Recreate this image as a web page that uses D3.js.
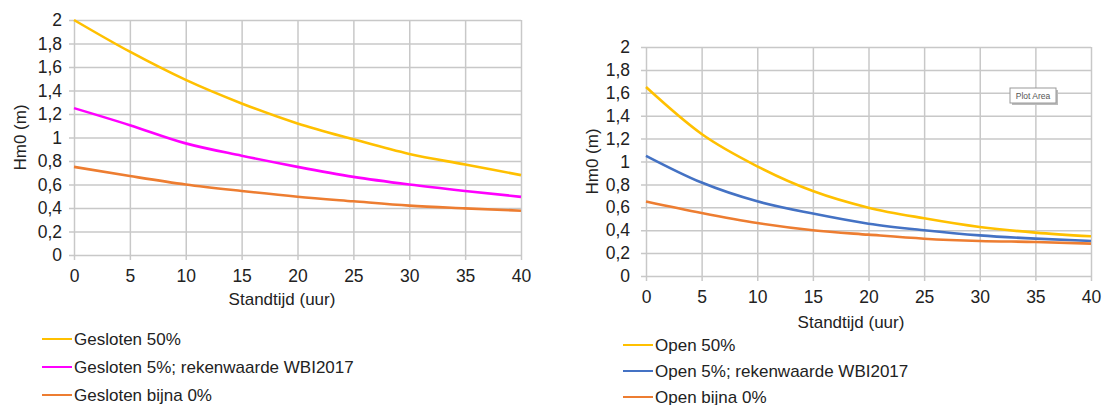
<!DOCTYPE html>
<html>
<head>
<meta charset="utf-8">
<script src="https://cdn.jsdelivr.net/npm/d3@7"></script>
<style>
  html, body { margin: 0; padding: 0; background: #fff; }
  svg { display: block; font-family: Arial, "Liberation Sans", sans-serif; }
</style>
</head>
<body>
<svg id="chart" width="1102" height="405"></svg>
<script>
// Standtijd (uur) sample points
const hours = [0, 5, 10, 15, 20, 25, 30, 35, 40];
const xTicks = [0, 5, 10, 15, 20, 25, 30, 35, 40];
const yTicks = [0, 0.2, 0.4, 0.6, 0.8, 1, 1.2, 1.4, 1.6, 1.8, 2];

// Hm0 (m), gesloten
const gesloten50 = [2.0, 1.73, 1.49, 1.29, 1.12, 0.985, 0.86, 0.77, 0.68];
const gesloten5 = [1.25, 1.105, 0.95, 0.845, 0.75, 0.665, 0.60, 0.545, 0.495];
const geslotenBijna0 = [0.75, 0.672, 0.60, 0.545, 0.496, 0.457, 0.42, 0.397, 0.377];

// Hm0 (m), open
const open50 = [1.65, 1.24, 0.958, 0.742, 0.597, 0.504, 0.428, 0.379, 0.347];
const open5 = [1.05, 0.816, 0.652, 0.545, 0.457, 0.40, 0.355, 0.326, 0.306];
const openBijna0 = [0.65, 0.55, 0.463, 0.40, 0.361, 0.326, 0.306, 0.297, 0.283];

const leftNames = ["Gesloten 50%", "Gesloten 5%; rekenwaarde WBI2017", "Gesloten bijna 0%"];
const rightNames = ["Open 50%", "Open 5%; rekenwaarde WBI2017", "Open bijna 0%"];

const colors = { yellow: "#FFC000", magenta: "#FF00FF", orange: "#ED7D31", blue: "#4472C4" };
const fmt = d => String(d).replace(".", ",");

const svg = d3.select("#chart");

function drawPanel(cfg) {
  const x = d3.scaleLinear().domain([0, 40]).range([cfg.x0, cfg.x1]);
  const y = d3.scaleLinear().domain([0, 2]).range([cfg.y1, cfg.y0]);
  const g = svg.append("g");

  // horizontal gridlines + y labels
  const yAxis = d3.axisLeft(y).tickValues(yTicks).tickFormat(fmt)
    .tickSize(-(cfg.x1 - cfg.x0) - 5).tickPadding(8);
  const ya = g.append("g").attr("transform", `translate(${cfg.x0 - 5},0)`).call(yAxis);
  ya.select(".domain").remove();
  ya.selectAll("line").attr("stroke", "#c8c8c8").attr("stroke-width", 1.5);
  ya.selectAll("text").attr("font-size", 17.5).attr("fill", "#222")
    .attr("x", cfg.yLabelX - (cfg.x0 - 5)).attr("text-anchor", "end");

  // vertical gridlines + x labels
  const xAxis = d3.axisBottom(x).tickValues(xTicks)
    .tickSize(-(cfg.y1 - cfg.y0) - 5).tickPadding(0);
  const xa = g.append("g").attr("transform", `translate(0,${cfg.y1 + 5})`).call(xAxis);
  xa.select(".domain").remove();
  xa.selectAll("line").attr("stroke", "#c8c8c8").attr("stroke-width", 1.5);
  xa.selectAll("text").attr("font-size", 17.5).attr("fill", "#222")
    .attr("dy", null).attr("y", cfg.xLabelY - (cfg.y1 + 5));

  // axis titles
  g.append("text").attr("x", cfg.xTitleX).attr("y", cfg.xTitleY)
    .attr("text-anchor", "middle").attr("font-size", 17).attr("fill", "#222")
    .text("Standtijd (uur)");
  g.append("text")
    .attr("transform", `translate(${cfg.yTitleX},${(cfg.y0 + cfg.y1) / 2}) rotate(-90)`)
    .attr("text-anchor", "middle").attr("font-size", 17).attr("fill", "#222")
    .text("Hm0 (m)");

  // series lines
  const line = d3.line().x((d, i) => x(hours[i])).y(d => y(d)).curve(d3.curveMonotoneX);
  cfg.series.forEach(s => {
    g.append("path").datum(s.values).attr("d", line)
      .attr("fill", "none").attr("stroke", s.color).attr("stroke-width", 2.6);
  });

  // legend
  cfg.series.forEach((s, i) => {
    const ly = cfg.legendY[i];
    g.append("line").attr("x1", cfg.legendX).attr("x2", cfg.legendX + 30)
      .attr("y1", ly).attr("y2", ly).attr("stroke", s.color).attr("stroke-width", 2);
    g.append("text").attr("x", cfg.legendX + 32).attr("y", ly + 6)
      .attr("font-size", 17).attr("fill", "#222").text(s.name);
  });
  return { x, y, g };
}

drawPanel({
  x0: 74, x1: 521, y0: 20, y1: 255,
  yLabelX: 62, xLabelY: 282, xTitleX: 282, xTitleY: 305, yTitleX: 26,
  legendX: 42, legendY: [339, 367, 395],
  series: [
    { name: leftNames[0], values: gesloten50, color: colors.yellow },
    { name: leftNames[1], values: gesloten5, color: colors.magenta },
    { name: leftNames[2], values: geslotenBijna0, color: colors.orange }
  ]
});

const right = drawPanel({
  x0: 646, x1: 1091, y0: 47, y1: 276,
  yLabelX: 630, xLabelY: 303, xTitleX: 851, xTitleY: 328, yTitleX: 598,
  legendX: 623, legendY: [345, 371, 397],
  series: [
    { name: rightNames[0], values: open50, color: colors.yellow },
    { name: rightNames[1], values: open5, color: colors.blue },
    { name: rightNames[2], values: openBijna0, color: colors.orange }
  ]
});

// hover tag on the right plot area
const tag = right.g.append("g").attr("transform", "translate(1010,88)");
tag.append("rect").attr("x", 2).attr("y", 2).attr("width", 46).attr("height", 15)
  .attr("fill", "#bbb");
tag.append("rect").attr("width", 46).attr("height", 15)
  .attr("fill", "#fff").attr("stroke", "#999").attr("stroke-width", 1);
tag.append("text").attr("x", 23).attr("y", 11).attr("text-anchor", "middle")
  .attr("font-size", 8.5).attr("fill", "#555").text("Plot Area");
</script>
</body>
</html>
